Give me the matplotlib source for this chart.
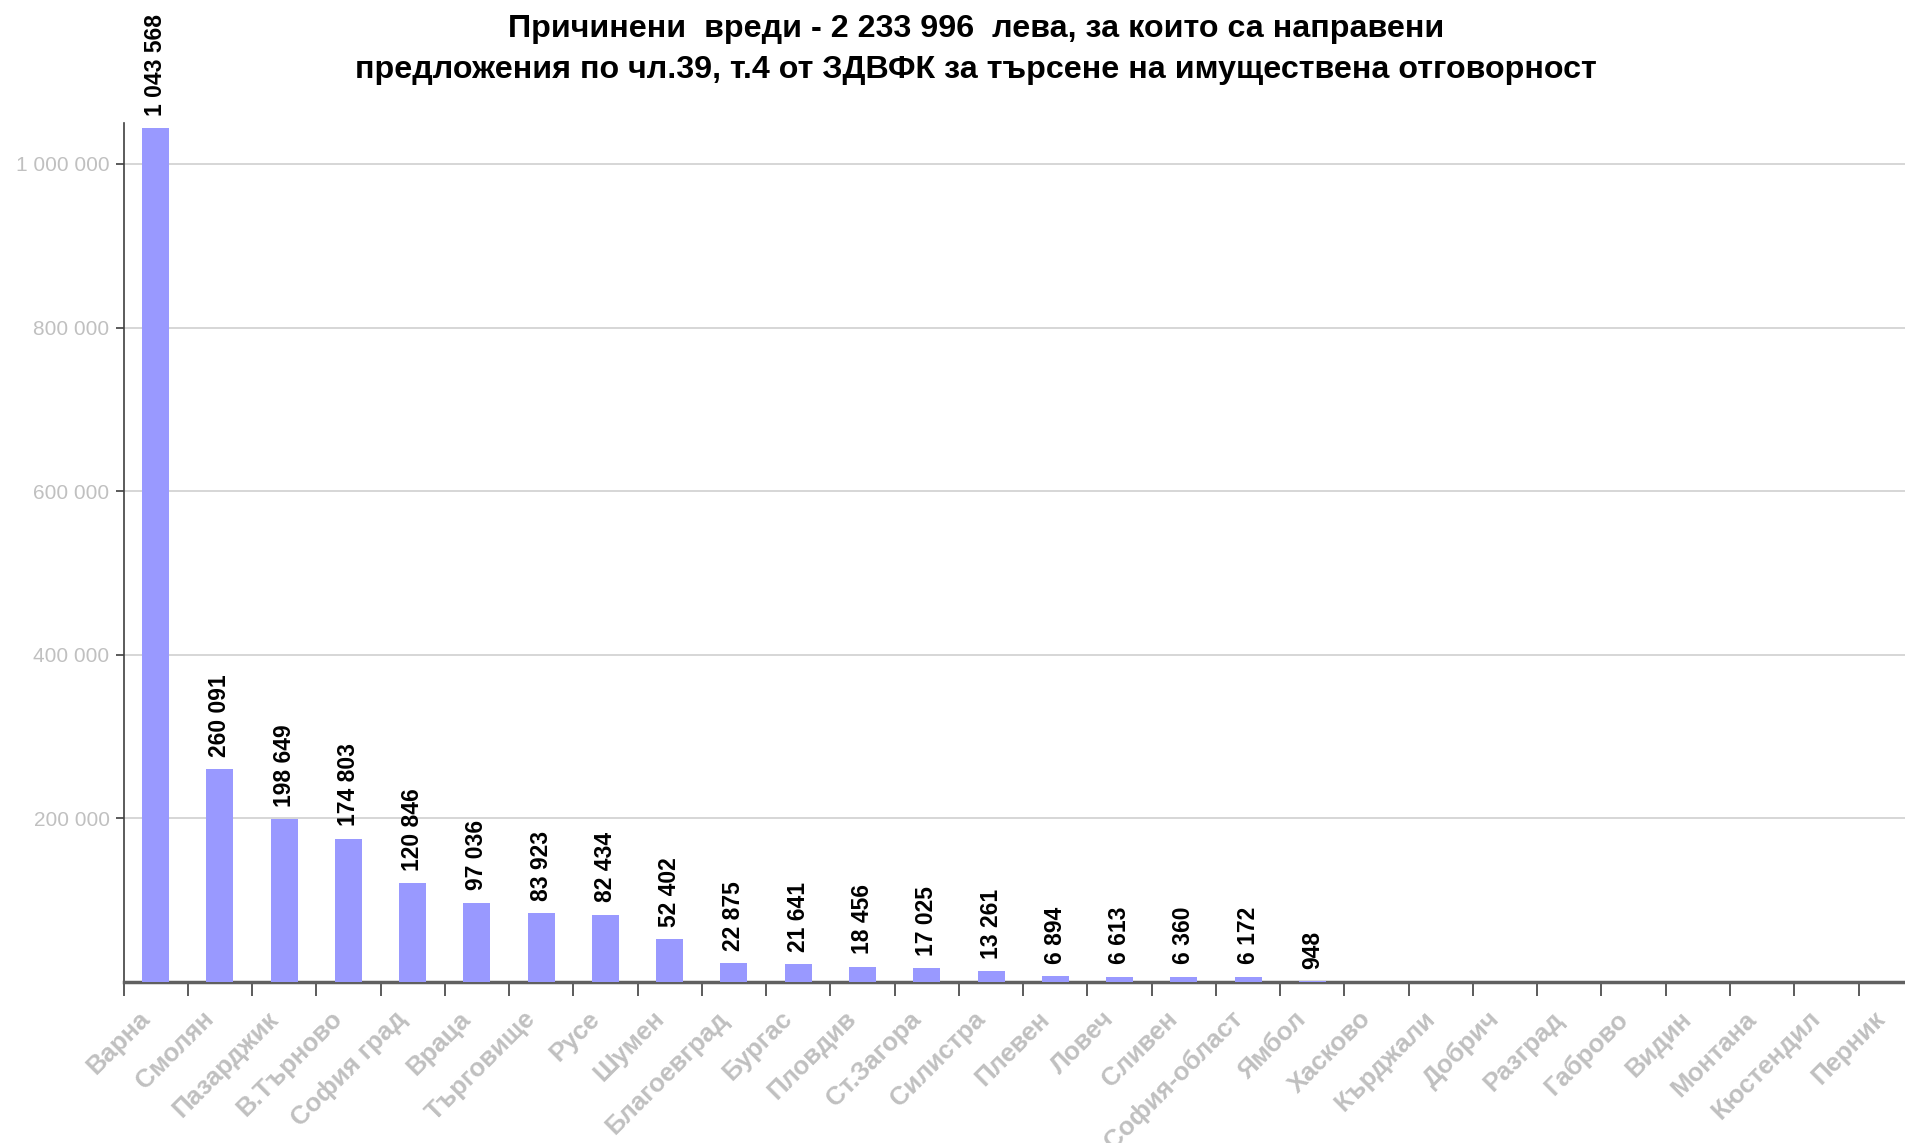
#!/usr/bin/env python
# -*- coding: utf-8 -*-
"""
Damages per region - bar chart
"""
import matplotlib
matplotlib.use('Agg')
import matplotlib.pyplot as plt
from matplotlib.transforms import ScaledTranslation

TITLE = ('Причинени  вреди - 2 233 996  лева, за които са направени\n'
         'предложения по чл.39, т.4 от ЗДВФК за търсене на имуществена отговорност')

regions = ['Варна', 'Смолян', 'Пазарджик', 'В.Търново', 'София град', 'Враца',
           'Търговище', 'Русе', 'Шумен', 'Благоевград', 'Бургас', 'Пловдив',
           'Ст.Загора', 'Силистра', 'Плевен', 'Ловеч', 'Сливен', 'София-област',
           'Ямбол', 'Хасково', 'Кърджали', 'Добрич', 'Разград', 'Габрово',
           'Видин', 'Монтана', 'Кюстендил', 'Перник']
damages = [1043568, 260091, 198649, 174803, 120846, 97036,
           83923, 82434, 52402, 22875, 21641, 18456,
           17025, 13261, 6894, 6613, 6360, 6172,
           948, 0, 0, 0, 0, 0,
           0, 0, 0, 0]
y_ticks = [200000, 400000, 600000, 800000, 1000000]

BAR_COLOR = '#9999FF'
GRAY_TXT = '#C0C0C0'


def fmt(v):
    return '{:,}'.format(v).replace(',', ' ')


def main():
    plt.rcParams['font.family'] = ['Liberation Sans', 'DejaVu Sans']
    fig = plt.figure(figsize=(19.06, 11.43), dpi=100)
    ax = fig.add_axes([0.0648, 0.1409, 0.944, 0.7515])

    x = list(range(len(regions)))
    ax.bar(x, damages, width=0.42, color=BAR_COLOR, zorder=3)

    # value labels above the bars (zeros are not labelled)
    for xi, v in zip(x, damages):
        if v > 0:
            ax.annotate(fmt(v), (xi, v), xytext=(0, 9), textcoords='offset points',
                        rotation=90, ha='center', va='bottom',
                        fontsize=16.5, fontweight='bold', color='black')

    ax.set_xlim(-0.5, len(regions) - 0.5)
    ax.set_ylim(0, 1050000)

    ax.set_yticks(y_ticks)
    ax.set_yticklabels([fmt(t) for t in y_ticks], fontsize=15, color=GRAY_TXT)
    ax.yaxis.grid(True, color='#D0D0D0', linewidth=1.2, zorder=0)
    ax.tick_params(axis='y', length=6, width=1.2, color='#404040', pad=4)

    # category ticks on the boundaries, labels centred under bars
    ax.set_xticks([i - 0.5 for i in x])
    ax.set_xticklabels([])
    ax.set_xticks(x, minor=True)
    ax.set_xticklabels(regions, minor=True, rotation=45, ha='right', va='center',
                       rotation_mode='anchor', fontsize=18.5, fontweight='bold',
                       color=GRAY_TXT)
    ax.tick_params(axis='x', which='minor', length=0, pad=24)
    ax.tick_params(axis='x', which='major', length=10, width=1.2, color='#404040')
    shift = ScaledTranslation(-7 / 72, 0, fig.dpi_scale_trans)
    for lbl in ax.get_xticklabels(minor=True):
        lbl.set_transform(lbl.get_transform() + shift)

    for s in ['top', 'right']:
        ax.spines[s].set_visible(False)
    ax.spines['left'].set_color('#404040')
    ax.spines['left'].set_linewidth(1.2)
    ax.spines['bottom'].set_color('#606060')
    ax.spines['bottom'].set_linewidth(2.5)

    fig.text(0.512, 0.988, TITLE, ha='center', va='top', fontsize=23.2,
             fontweight='bold', linespacing=1.5)

    fig.savefig('out.png', dpi=100)


if __name__ == '__main__':
    main()
